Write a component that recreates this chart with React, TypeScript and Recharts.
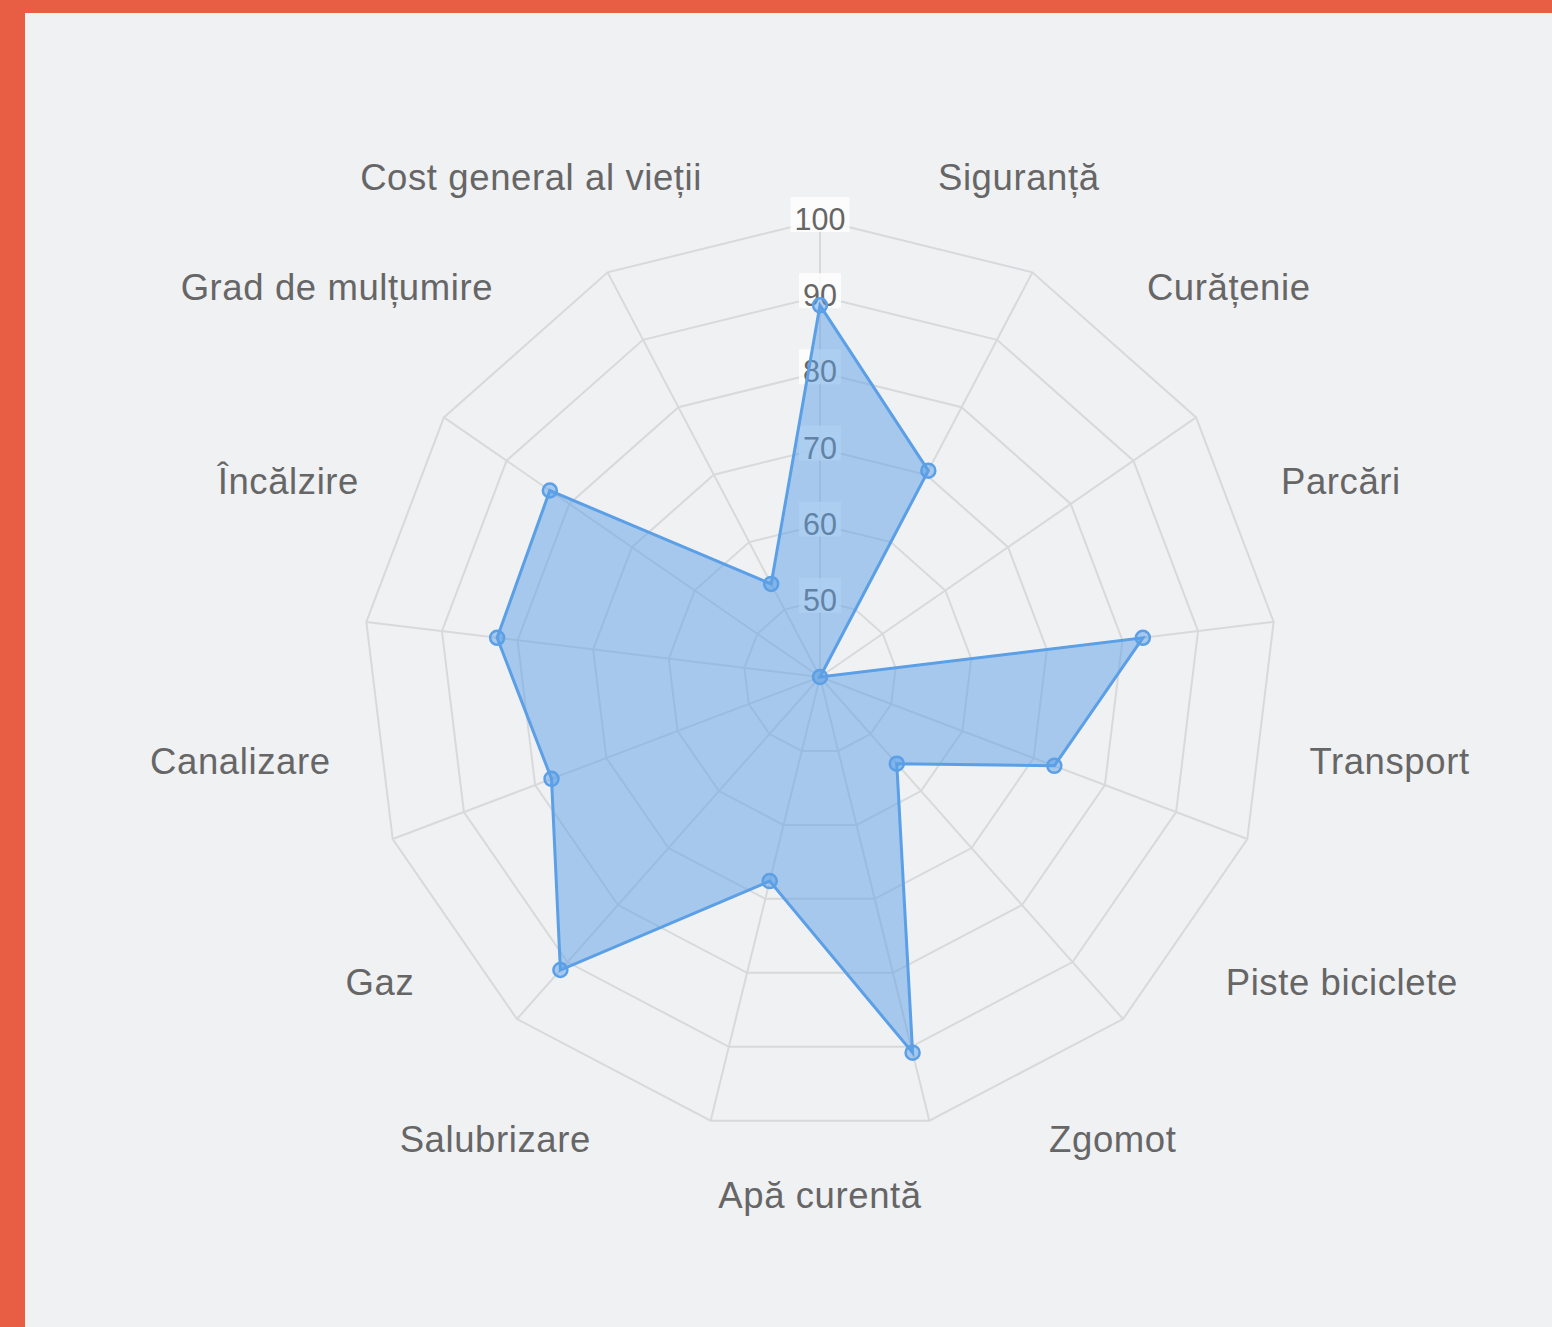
import React from 'react';
import { RadarChart, Radar, PolarGrid, PolarAngleAxis, PolarRadiusAxis } from 'recharts';

const categories = [
  'Siguranță',
  'Curățenie',
  'Parcări',
  'Transport',
  'Piste biciclete',
  'Zgomot',
  'Apă curentă',
  'Salubrizare',
  'Gaz',
  'Canalizare',
  'Încălzire',
  'Grad de mulțumire',
  'Cost general al vieții',
];
const scores = [88.8, 70.6, 40, 82.7, 72.9, 55.2, 90.8, 67.6, 91.4, 77.7, 82.7, 83.1, 53.8];
const radiusDomain = [40, 100];
const radiusTickCount = 7;

const data = categories.map((c, i) => ({ category: c, score: scores[i] }));

const CX = 820;
const CY = 677;
const R = 457;
const FONT = '"Liberation Sans", Arial, Helvetica, sans-serif';

function AngleTick(props: any) {
  const { payload } = props;
  let index = props.index;
  if (typeof index !== 'number') index = categories.indexOf(payload.value);
  const n = categories.length;
  const step = 360 / n;
  const a = (index + 0.5) * step;
  const rad = (a * Math.PI) / 180;
  const r = 493;
  const px = CX + r * Math.sin(rad);
  const py = CY - r * Math.cos(rad);
  let anchor: 'start' | 'middle' | 'end' = 'middle';
  if (Math.abs(a - 180) < 0.5 || a < 0.5) anchor = 'middle';
  else if (a < 180) anchor = 'start';
  else anchor = 'end';
  const upper = a < 90 || a > 270;
  const baseline = upper ? py - 8 : py + 38;
  return (
    <text
      x={px}
      y={baseline}
      textAnchor={anchor}
      fill="#666"
      fontSize={36.5}
      letterSpacing={0.6}
      fontFamily={FONT}
    >
      {payload.value}
    </text>
  );
}

function RadiusTick(props: any) {
  const { x, y, payload } = props;
  const v = Math.round(Number(payload.value));
  if (v === 40) return <g />;
  const label = String(v);
  const w = label.length * 17 + 8;
  return (
    <g>
      <rect x={x - w / 2} y={y - 23} width={w} height={35} fill="#ffffff" fillOpacity={0.8} />
      <text x={x} y={y + 10} textAnchor="middle" fill="#666" fontSize={30.5} fontFamily={FONT}>
        {label}
      </text>
    </g>
  );
}

export default function App() {
  return (
    <div
      style={{
        position: 'fixed',
        left: 0,
        top: 0,
        width: 1552,
        height: 1327,
        background: '#E85E45',
        overflow: 'hidden',
      }}
    >
      <div style={{ position: 'absolute', left: 25, top: 13, right: 0, bottom: 0, background: '#F0F1F3' }} />
      <div style={{ position: 'absolute', left: 0, top: 0 }}>
        <RadarChart
          width={1552}
          height={1327}
          data={data}
          cx={CX}
          cy={CY}
          outerRadius={R}
          margin={{ top: 0, left: 0, right: 0, bottom: 0 }}
        >
          <PolarGrid stroke="#D8D9DB" strokeWidth={2} gridType="polygon" />
          <PolarRadiusAxis
            angle={90}
            domain={radiusDomain}
            tickCount={radiusTickCount}
            axisLine={false}
            tickLine={false}
            type="number"
            tick={(p: any) => <RadiusTick {...p} />}
            zIndex={50}
          />
          <PolarAngleAxis
            dataKey="category"
            tickLine={false}
            axisLine={false}
            tick={(p: any) => <AngleTick {...p} />}
          />
          <Radar
            dataKey="score"
            stroke="#5B9FE6"
            strokeWidth={3}
            fill="#5B9FE6"
            fillOpacity={0.5}
            dot={{ r: 7, fill: '#5B9FE6', fillOpacity: 0.5, stroke: '#5B9FE6', strokeWidth: 2.5 }}
            isAnimationActive={false}
          />
        </RadarChart>
      </div>
    </div>
  );
}
